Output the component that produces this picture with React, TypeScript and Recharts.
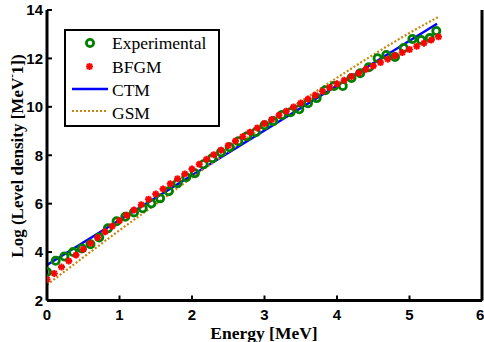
import React from 'react';
import { ComposedChart, Line, Scatter, XAxis, YAxis, Legend } from 'recharts';

// Experimental data (energy in MeV, log level density)
const expEnergy = [0, 0.12, 0.24, 0.36, 0.48, 0.6, 0.72, 0.84, 0.96, 1.08, 1.2, 1.32, 1.44, 1.56, 1.68, 1.8, 1.92, 2.04, 2.16, 2.28, 2.4, 2.52, 2.64, 2.76, 2.88, 3.0, 3.12, 3.24, 3.36, 3.48, 3.6, 3.72, 3.84, 3.96, 4.08, 4.2, 4.32, 4.44, 4.56, 4.68, 4.8, 4.92, 5.04, 5.16, 5.28, 5.37];
const expValue = [3.18, 3.64, 3.82, 4.0, 4.15, 4.32, 4.6, 4.98, 5.27, 5.46, 5.64, 5.81, 6.01, 6.22, 6.51, 6.84, 7.09, 7.26, 7.63, 7.88, 8.12, 8.33, 8.58, 8.79, 8.95, 9.24, 9.41, 9.66, 9.78, 9.9, 10.15, 10.36, 10.69, 10.86, 10.86, 11.19, 11.39, 11.64, 12.01, 12.14, 12.06, 12.43, 12.8, 12.76, 12.84, 13.13];

// BFGM
const bfgmEnergy = [0, 0.1, 0.2, 0.3, 0.4, 0.5, 0.6, 0.7, 0.8, 0.9, 1.0, 1.1, 1.2, 1.3, 1.4, 1.5, 1.6, 1.7, 1.8, 1.9, 2.0, 2.1, 2.2, 2.3, 2.4, 2.5, 2.6, 2.7, 2.8, 2.9, 3.0, 3.1, 3.2, 3.3, 3.4, 3.5, 3.6, 3.7, 3.8, 3.9, 4.0, 4.1, 4.2, 4.3, 4.4, 4.5, 4.6, 4.7, 4.8, 4.9, 5.0, 5.1, 5.2, 5.3, 5.4];
const bfgmValue = [2.87, 3.12, 3.38, 3.63, 3.88, 4.12, 4.36, 4.6, 4.84, 5.07, 5.3, 5.52, 5.74, 5.96, 6.18, 6.4, 6.61, 6.82, 7.03, 7.23, 7.43, 7.63, 7.83, 8.02, 8.21, 8.4, 8.59, 8.77, 8.95, 9.13, 9.31, 9.48, 9.65, 9.82, 9.99, 10.16, 10.32, 10.48, 10.64, 10.8, 10.95, 11.1, 11.25, 11.4, 11.55, 11.69, 11.83, 11.97, 12.11, 12.24, 12.37, 12.5, 12.63, 12.76, 12.89];

// CTM
const ctmEnergy = [0, 5.38];
const ctmValue = [3.47, 13.43];

// GSM
const gsmEnergy = [0, 0.5, 1.0, 1.5, 2.0, 2.5, 3.0, 3.5, 4.0, 4.5, 5.0, 5.4];
const gsmValue = [2.65, 3.78, 4.9, 5.98, 7.08, 8.15, 9.22, 10.22, 11.2, 12.15, 13.05, 13.72];

const xTicks = [0, 1, 2, 3, 4, 5, 6];
const yTicks = [2, 4, 6, 8, 10, 12, 14];

const seriesNames = ['Experimental', 'BFGM', 'CTM', 'GSM'];

const GREEN = '#008000';
const RED = '#ff0000';
const BLUE = '#0000ff';
const GOLD = '#c8860d';

const zip = (xs: number[], ys: number[]) => xs.map((x, i) => ({ x, y: ys[i] }));
const expData = zip(expEnergy, expValue);
const bfgmData = zip(bfgmEnergy, bfgmValue);
const ctmData = zip(ctmEnergy, ctmValue);
const gsmData = zip(gsmEnergy, gsmValue);

const sansBold = { fontFamily: '"Liberation Sans", Arial, sans-serif', fontWeight: 700, fontSize: 15, fill: '#000' };
const serif = '"Liberation Serif", "Times New Roman", serif';

const CircleShape = (p: any) => (
  <circle cx={p.cx} cy={p.cy} r={3.6} fill="none" stroke={GREEN} strokeWidth={2.8} />
);

const StarShape = (p: any) => {
  const s = 3.5;
  const d = 2.5;
  return (
    <g stroke={RED} strokeWidth={2} strokeLinecap="butt">
      <line x1={p.cx - s} y1={p.cy} x2={p.cx + s} y2={p.cy} />
      <line x1={p.cx} y1={p.cy - s} x2={p.cx} y2={p.cy + s} />
      <line x1={p.cx - d} y1={p.cy - d} x2={p.cx + d} y2={p.cy + d} />
      <line x1={p.cx - d} y1={p.cy + d} x2={p.cx + d} y2={p.cy - d} />
    </g>
  );
};

const LegendBox = () => {
  const rowCenters = [14, 37.5, 61, 84];
  return (
    <div
      style={{
        position: 'relative',
        width: 156,
        height: 98,
        boxSizing: 'border-box',
        border: '2.5px solid #000',
        background: '#fff',
        fontFamily: serif,
        fontSize: 17.5,
        color: '#000',
      }}
    >
      <svg width={156} height={98} style={{ position: 'absolute', left: -2.5, top: -2.5 }}>
        <circle cx={26} cy={rowCenters[0]} r={3.6} fill="none" stroke={GREEN} strokeWidth={2.8} />
        <g stroke={RED} strokeWidth={2}>
          <line x1={22} y1={rowCenters[1]} x2={29} y2={rowCenters[1]} />
          <line x1={25.5} y1={rowCenters[1] - 3.5} x2={25.5} y2={rowCenters[1] + 3.5} />
          <line x1={23} y1={rowCenters[1] - 2.5} x2={28} y2={rowCenters[1] + 2.5} />
          <line x1={23} y1={rowCenters[1] + 2.5} x2={28} y2={rowCenters[1] - 2.5} />
        </g>
        <line x1={8} y1={rowCenters[2] - 1} x2={44} y2={rowCenters[2] - 1} stroke={BLUE} strokeWidth={2.5} />
        <line x1={8} y1={rowCenters[3] - 2} x2={44} y2={rowCenters[3] - 2} stroke={GOLD} strokeWidth={2} strokeDasharray="2 2" />
        {seriesNames.map((n, i) => (
          <text key={n} x={48} y={rowCenters[i]} dominantBaseline="central" fontFamily={serif} fontSize={17.5} fill="#000">
            {n}
          </text>
        ))}
      </svg>
    </div>
  );
};

export default function App() {
  return (
    <div style={{ position: 'absolute', left: 0, top: 0, width: 484, height: 342, background: '#fff' }}>
      <ComposedChart width={484} height={342} margin={{ top: 10, right: 0, bottom: 11.5, left: 0 }}>
        <XAxis
          xAxisId="b"
          type="number"
          dataKey="x"
          domain={[0, 6]}
          ticks={xTicks}
          allowDataOverflow
          height={30}
          axisLine={{ stroke: '#000', strokeWidth: 3 }}
          tickLine={{ stroke: '#000', strokeWidth: 2 }}
          tickSize={-5}
          tickMargin={13.5}
          tick={sansBold}
        />
        <XAxis
          xAxisId="t"
          orientation="top"
          type="number"
          dataKey="x"
          domain={[0, 6]}
          ticks={xTicks}
          allowDataOverflow
          height={0}
          axisLine={{ stroke: '#000', strokeWidth: 3 }}
          tickLine={{ stroke: '#000', strokeWidth: 2 }}
          tickSize={-5}
          tick={false}
        />
        <YAxis
          yAxisId="l"
          type="number"
          dataKey="y"
          domain={[2, 14]}
          ticks={yTicks}
          allowDataOverflow
          width={47}
          axisLine={{ stroke: '#000', strokeWidth: 3 }}
          tickLine={{ stroke: '#000', strokeWidth: 2 }}
          tickSize={-5}
          tickMargin={9}
          tick={sansBold}
        />
        <YAxis
          yAxisId="r"
          orientation="right"
          type="number"
          dataKey="y"
          domain={[2, 14]}
          ticks={yTicks}
          allowDataOverflow
          width={2}
          axisLine={{ stroke: '#000', strokeWidth: 3 }}
          tickLine={{ stroke: '#000', strokeWidth: 2 }}
          tickSize={-5}
          tick={false}
        />
        <Scatter
          name="Experimental"
          data={expData}
          xAxisId="b"
          yAxisId="l"
          shape={CircleShape}
          isAnimationActive={false}
        />
        <Scatter
          name="BFGM"
          data={bfgmData}
          xAxisId="b"
          yAxisId="l"
          shape={StarShape}
          isAnimationActive={false}
        />
        <Line
          name="CTM"
          data={ctmData}
          dataKey="y"
          xAxisId="b"
          yAxisId="l"
          type="linear"
          stroke={BLUE}
          strokeWidth={2.5}
          dot={false}
          activeDot={false}
          isAnimationActive={false}
        />
        <Line
          name="GSM"
          data={gsmData}
          dataKey="y"
          xAxisId="b"
          yAxisId="l"
          type="monotone"
          stroke={GOLD}
          strokeWidth={2.2}
          strokeDasharray="2 2"
          dot={false}
          activeDot={false}
          isAnimationActive={false}
        />
        <Legend
          layout="vertical"
          align="center"
          verticalAlign="middle"
          content={() => <LegendBox />}
          wrapperStyle={{ position: 'absolute', left: 64, top: 29, width: 156, height: 98, margin: 0, padding: 0 }}
        />
        <text
          x={264}
          y={338.5}
          textAnchor="middle"
          fontFamily={serif}
          fontWeight={700}
          fontSize={17.5}
          fill="#000"
        >
          Energy [MeV]
        </text>
        <text
          transform="translate(17,156) rotate(-90)"
          textAnchor="middle"
          dominantBaseline="central"
          fontFamily={serif}
          fontWeight={700}
          fontSize={17}
          fill="#000"
        >
          Log (Level density [MeV<tspan dy={-6} fontSize={11}>-</tspan><tspan dy={6}>1])</tspan>
        </text>
      </ComposedChart>
    </div>
  );
}
